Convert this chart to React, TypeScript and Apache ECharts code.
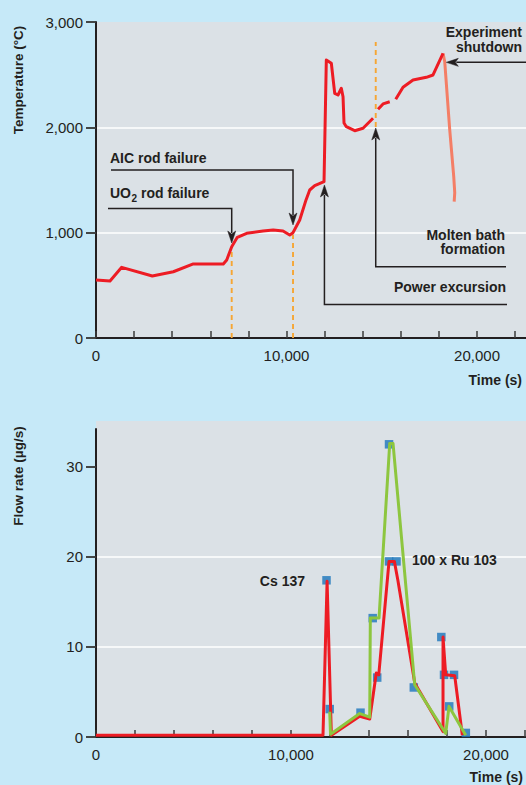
import React, { useEffect, useRef } from 'react';
import * as echarts from 'echarts';

// ---------- Upper panel: temperature history (time s, °C) ----------
const tempRise: number[][] = [
  [0, 551], [735, 541], [1349, 671], [2955, 589], [4058, 629], [5108, 703],
  [6682, 703], [6861, 741], [7123, 867], [7417, 956], [7911, 994], [8766, 1016],
  [9300, 1025], [9816, 1016], [10168, 978], [10341, 1000], [10693, 1120],
  [11024, 1311], [11218, 1405], [11480, 1446], [11969, 1484], [12089, 2639],
  [12352, 2608], [12530, 2323], [12703, 2307], [12877, 2371], [12966, 2291],
  [13018, 2041], [13139, 2006], [13580, 1968], [14016, 1991], [14541, 2086],
];
const tempBathA: number[][] = [[14803, 2171], [15066, 2222], [15417, 2243]];
const tempBathB: number[][] = [
  [15732, 2266], [16115, 2380], [16640, 2449], [17339, 2475], [17690, 2497], [18215, 2703],
];
const tempShutdown: number[][] = [
  [18215, 2703], [18304, 2623], [18567, 1975], [18777, 1531], [18830, 1380], [18800, 1294],
];
// orange dashed event markers
const dashTimes = [7123, 10341, 14683];
const dashFrom = [0, 0, 2004];
const dashTo = [835, 980, 2811];

// ---------- Lower panel: flow rates (µg/s) ----------
const csFlow: number[][] = [
  [0, 0.2], [11640, 0.2], [11850, 17.3], [12070, 0.2], [13523, 2.3], [14036, 2.0],
  [14374, 7.1], [14500, 6.9], [15026, 19.5], [15300, 19.5], [15480, 17.4], [16344, 6.0],
  [17795, 0.6], [17795, 11.1], [17933, 6.9], [18395, 6.8], [18785, 0.2],
];
const ruFlow: number[][] = [
  [11985, 2.8], [12026, 0.3], [13523, 2.6], [14036, 2.2], [14067, 13.2], [14513, 13.2],
  [15062, 32.6], [15231, 32.6], [16344, 5.8], [17933, 0.4], [18103, 3.4], [18959, 0.2],
];
const csMarks: number[][] = [
  [11821, 17.4], [13564, 2.7], [14420, 6.6], [15026, 19.5], [15410, 19.5],
  [16297, 5.5], [17708, 11.1], [17846, 6.9], [18359, 6.9],
];
const ruMarks: number[][] = [
  [11985, 3.1], [14190, 13.2], [15026, 32.5], [18113, 3.4], [18965, 0.45],
];

// ---------- Axis ticks ----------
const timeTicks = [0, 2000, 4000, 6000, 8000, 10000, 12000, 14000, 16000, 18000, 20000, 22000];
const timeLabels = [0, 10000, 20000];
const tempTicks = [0, 1000, 2000, 3000];
const flowTicks = [0, 10, 20, 30];

const FONT = '"Liberation Sans", Arial, Helvetica, sans-serif';
const INK = '#231f20';
const TICK = '#3b3b3b';
const RED = '#ed1c24';
const SALMON = '#f47e66';
const GREEN = '#8dc63f';
const BLUE = '#1b75bc';
const ORANGE = '#f6a633';
const BG = '#c6e9f8';
const PLOT = '#dbe1e6';

const fmt = (v: number) => String(v).replace(/\B(?=(\d{3})+(?!\d))/g, ',');

function xAxisCfg(gridIndex: number, max: number) {
  return {
    type: 'value', gridIndex, min: 0, max, interval: 2000,
    axisLine: { show: true, onZero: false, lineStyle: { color: INK, width: 2 } },
    axisTick: { show: true, inside: true, length: 7, customValues: timeTicks, lineStyle: { color: TICK, width: 1.5 } },
    axisLabel: { customValues: timeLabels, formatter: fmt, margin: 10, fontSize: 15, color: INK, fontFamily: FONT },
    splitLine: { show: false },
  };
}
function yAxisCfg(gridIndex: number, max: number, interval: number, ticks: number[]) {
  return [
    {
      type: 'value', gridIndex, min: 0, max, interval,
      axisLine: { show: true, onZero: false, lineStyle: { color: INK, width: 2 } },
      axisTick: { show: true, inside: false, length: 10, customValues: ticks, lineStyle: { color: TICK, width: 1.5 } },
      axisLabel: { customValues: ticks, formatter: fmt, margin: 13, fontSize: 15, color: INK, fontFamily: FONT, padding: [0, 0, 7, 0] },
      splitLine: { show: true, showMinLine: false, showMaxLine: false, lineStyle: { color: '#ffffff', width: 1.5 } },
    },
    {
      type: 'value', gridIndex, min: 0, max, interval,
      axisLine: { show: false },
      axisTick: { show: true, inside: true, length: 10, customValues: ticks, lineStyle: { color: TICK, width: 1.5 } },
      axisLabel: { show: false },
      splitLine: { show: false },
    },
  ];
}

export default function App() {
  const ref = useRef<HTMLDivElement>(null);
  useEffect(() => {
    if (!ref.current) return;
    const chart = echarts.init(ref.current, null, { renderer: 'svg' });
    const lineBase = { type: 'line', symbol: 'none', silent: true, connectNulls: false };
    const series: any[] = [
      { ...lineBase, name: 'tempRise', xAxisIndex: 0, yAxisIndex: 0, z: 5, data: tempRise, lineStyle: { color: RED, width: 3, join: 'round' } },
      { ...lineBase, xAxisIndex: 0, yAxisIndex: 0, z: 5, data: tempBathA, lineStyle: { color: RED, width: 3, join: 'round' } },
      { ...lineBase, xAxisIndex: 0, yAxisIndex: 0, z: 5, data: tempBathB, lineStyle: { color: RED, width: 3, join: 'round' } },
      { ...lineBase, xAxisIndex: 0, yAxisIndex: 0, z: 4, data: tempShutdown, lineStyle: { color: SALMON, width: 3, join: 'round' } },
      ...dashTimes.map((t, i) => ({
        ...lineBase, xAxisIndex: 0, yAxisIndex: 0, z: 3,
        data: [[t, dashFrom[i]], [t, dashTo[i]]],
        lineStyle: { color: ORANGE, width: 1.9, type: [5, 4] },
      })),
      {
        type: 'scatter', silent: true, xAxisIndex: 1, yAxisIndex: 2, z: 2,
        symbol: 'rect', symbolSize: 8.5, itemStyle: { color: BLUE },
        data: [...csMarks, ...ruMarks],
      },
      { ...lineBase, name: 'cs', xAxisIndex: 1, yAxisIndex: 2, z: 4, data: csFlow, lineStyle: { color: RED, width: 3, join: 'round' } },
      { ...lineBase, xAxisIndex: 1, yAxisIndex: 2, z: 5, data: ruFlow, lineStyle: { color: GREEN, width: 3, join: 'round' } },
    ];
    chart.setOption({
      animation: false,
      backgroundColor: BG,
      textStyle: { fontFamily: FONT },
      grid: [
        { left: 96, top: 22, width: 430, height: 316, show: true, backgroundColor: PLOT, borderWidth: 0 },
        { left: 96, top: 429, width: 430, height: 308, show: true, backgroundColor: PLOT, borderWidth: 0 },
      ],
      xAxis: [xAxisCfg(0, 22570), xAxisCfg(1, 22050)],
      yAxis: [...yAxisCfg(0, 3000, 1000, tempTicks), ...yAxisCfg(1, 34.2, 10, flowTicks)],
      series,
    });

    const topIdx = 0;
    const botIdx = series.findIndex((s) => s.name === 'cs');
    const P = (t: number, v: number) => chart.convertToPixel({ seriesIndex: topIdx }, [t, v]) as number[];
    const Q = (t: number, v: number) => chart.convertToPixel({ seriesIndex: botIdx }, [t, v]) as number[];

    const ln = (points: number[][]) => ({
      type: 'polyline', silent: true, z: 20,
      shape: { points },
      style: { stroke: INK, lineWidth: 1.5, fill: null },
    });
    const head = (tip: number[], dir: 'down' | 'up' | 'left') => {
      const [x, y] = tip;
      const L = 12, W = 4;
      let pts: number[][];
      if (dir === 'down') pts = [[x, y], [x - W, y - L], [x, y - L + 3], [x + W, y - L]];
      else if (dir === 'up') pts = [[x, y], [x - W, y + L], [x, y + L - 3], [x + W, y + L]];
      else pts = [[x, y], [x + L, y - W], [x + L - 3, y], [x + L, y + W]];
      return { type: 'polygon', silent: true, z: 21, shape: { points: pts }, style: { fill: INK, stroke: INK, lineWidth: 0.5 } };
    };
    const txt = (x: number, y: number, text: string, align: string, size = 14, extra: any = {}) => ({
      type: 'text', silent: true, z: 22, x, y,
      style: {
        text, fill: INK, fontFamily: FONT, fontWeight: 'bold', fontSize: size,
        align, verticalAlign: 'middle', lineHeight: 14.4, ...extra,
      },
    });

    // arrow targets (time, temperature)
    const uo = P(7123, 902);
    const aic = P(10341, 1073);
    const pwr = P(11990, 1453);
    const mb = P(14683, 1994);
    const sd = P(18388, 2617);

    // UO2 subscript measurements
    const ctx = document.createElement('canvas').getContext('2d')!;
    ctx.font = `bold 14px ${FONT}`;
    const wUO = ctx.measureText('UO').width;
    ctx.font = `bold 10px ${FONT}`;
    const w2 = ctx.measureText('2').width;

    const zero = Q(0, 0);
    const graphic: any[] = [
      // extension of the lower plot background above the y-axis top
      { type: 'rect', silent: true, z: -1, shape: { x: 96, y: 421, width: 430, height: zero[1] - 421 - 308 }, style: { fill: PLOT } },
      // axis titles
      { ...txt(18, 80, 'Temperature (°C)', 'center', 13.5), rotation: Math.PI / 2 },
      { ...txt(18, 476, 'Flow rate (µg/s)', 'center', 13.5), rotation: Math.PI / 2 },
      txt(522, 380, 'Time (s)', 'right'),
      txt(523, 777, 'Time (s)', 'right'),
      // UO2 rod failure
      txt(110, 193, 'UO', 'left'),
      txt(110 + wUO + 0.5, 198, '2', 'left', 10),
      txt(110 + wUO + w2 + 0.5, 193, ' rod failure', 'left'),
      ln([[108, 208.5], [uo[0], 208.5], [uo[0], uo[1] - 10]]),
      head(uo, 'down'),
      // AIC rod failure
      txt(110, 158, 'AIC rod failure', 'left'),
      ln([[111, 170], [aic[0], 170], [aic[0], aic[1] - 10]]),
      head(aic, 'down'),
      // Power excursion
      txt(506, 287, 'Power excursion', 'right'),
      ln([[507, 304.5], [pwr[0], 304.5], [pwr[0], pwr[1] + 10]]),
      head(pwr, 'up'),
      // Molten bath formation
      txt(505, 242.2, 'Molten bath\nformation', 'right'),
      ln([[506, 266.7], [mb[0], 266.7], [mb[0], mb[1] + 10]]),
      head(mb, 'up'),
      // Experiment shutdown
      txt(522, 39.5, 'Experiment\nshutdown', 'right'),
      ln([[526, sd[1]], [sd[0] + 10, sd[1]]]),
      head(sd, 'left'),
      // series labels
      txt(305, 581, 'Cs 137', 'right'),
      txt(412, 560, '100 x Ru 103', 'left'),
    ];
    chart.setOption({ graphic });

    return () => chart.dispose();
  }, []);
  return (
    <div
      ref={ref}
      style={{ position: 'fixed', left: 0, top: 0, width: 526, height: 785, background: BG }}
    />
  );
}
